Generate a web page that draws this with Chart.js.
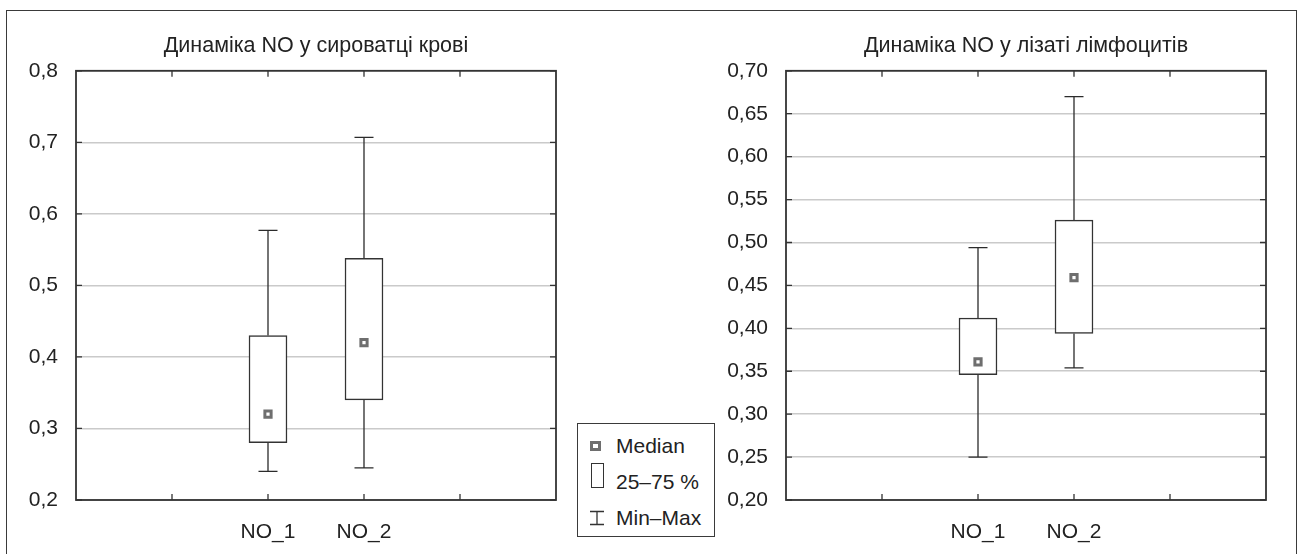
<!DOCTYPE html>
<html>
<head>
<meta charset="utf-8">
<script src="https://cdn.jsdelivr.net/npm/chart.js@4.4.1/dist/chart.umd.min.js"></script>
<style>
    body { margin: 0; background: #fff; font-family: "Liberation Sans", Arial, sans-serif; color: #222; }
    #page { position: relative; width: 1298px; height: 554px; overflow: hidden; }
    canvas { position: absolute; top: 0; }
    #chart1 { left: 0; }
    #chart2 { left: 700px; }
    #frame { position: absolute; left: 6px; top: 10px; width: 1291px; height: 600px; box-sizing: border-box;
             border: 1.5px solid #3a3a3a; border-bottom: none; pointer-events: none; }
    #legend { position: absolute; left: 577px; top: 423px; width: 138px; height: 114px; box-sizing: border-box;
              border: 1.5px solid #3a3a3a; background: #fff; }
    #legend .txt { position: absolute; left: 38px; font-size: 21px; line-height: 24px; white-space: nowrap; }
    #legend .med { position: absolute; left: 12px; top: 17px; width: 11px; height: 10px; box-sizing: border-box;
                   border: 3px solid #6e6e6e; background: #fff; }
    #legend .box { position: absolute; left: 13px; top: 39px; width: 13px; height: 25px; box-sizing: border-box;
                   border: 1.5px solid #333; }
    #legend svg { position: absolute; left: 11px; top: 86px; }
</style>
</head>
<body>
<div id="page">
    <canvas id="chart1" width="570" height="554"></canvas>
    <canvas id="chart2" width="598" height="554"></canvas>
    <div id="frame"></div>
    <div id="legend">
        <div class="med"></div><div class="txt" style="top:10px">Median</div>
        <div class="box"></div><div class="txt" style="top:46px">25–75 %</div>
        <svg width="16" height="16"><path d="M1 1.5H15M8 1.5V14.5M1 14.5H15" stroke="#333" stroke-width="1.3" fill="none"/></svg>
        <div class="txt" style="top:82px">Min–Max</div>
    </div>
</div>
<script>
const categories = ['NO_1', 'NO_2'];

// сироватка крові
const serumMin = [0.240, 0.245];
const serumQ1 = [0.280, 0.340];
const serumMedian = [0.320, 0.420];
const serumQ3 = [0.430, 0.538];
const serumMax = [0.577, 0.707];
const serumTicks = [0.2, 0.3, 0.4, 0.5, 0.6, 0.7, 0.8];

// лізат лімфоцитів
const lymphMin = [0.250, 0.354];
const lymphQ1 = [0.346, 0.394];
const lymphMedian = [0.361, 0.459];
const lymphQ3 = [0.412, 0.526];
const lymphMax = [0.494, 0.670];
const lymphTicks = [0.20, 0.25, 0.30, 0.35, 0.40, 0.45, 0.50, 0.55, 0.60, 0.65, 0.70];

const FONT = "'Liberation Sans', Arial, sans-serif";
const xLabels = ['', ''].concat(categories, ['', '']);

// whiskers (min-q1, q3-max) with caps
const whiskerPlugin = {
    id: 'whiskers',
    beforeDatasetsDraw(chart, args, opts) {
        const { ctx, scales: { x, y } } = chart;
        ctx.save();
        ctx.strokeStyle = '#2b2b2b';
        ctx.lineWidth = 1.3;
        categories.forEach((c, i) => {
            const px = x.getPixelForValue(xLabels.indexOf(c));
            const half = opts.capWidth / 2;
            const yMin = y.getPixelForValue(opts.min[i]);
            const yMax = y.getPixelForValue(opts.max[i]);
            ctx.beginPath();
            ctx.moveTo(px, yMin);
            ctx.lineTo(px, y.getPixelForValue(opts.q1[i]));
            ctx.moveTo(px, y.getPixelForValue(opts.q3[i]));
            ctx.lineTo(px, yMax);
            ctx.moveTo(px - half, yMin);
            ctx.lineTo(px + half, yMin);
            ctx.moveTo(px - half, yMax);
            ctx.lineTo(px + half, yMax);
            ctx.stroke();
        });
        ctx.restore();
    }
};

// plot frame with inward ticks on all four sides
const framePlugin = {
    id: 'plotFrame',
    afterDraw(chart) {
        const { ctx, chartArea: a, scales: { x, y } } = chart;
        ctx.save();
        ctx.strokeStyle = '#333';
        ctx.lineWidth = 1.3;
        ctx.beginPath();
        for (let i = 1; i < xLabels.length - 1; i++) {
            const px = x.getPixelForValue(i);
            ctx.moveTo(px, a.top); ctx.lineTo(px, a.top + 6);
            ctx.moveTo(px, a.bottom); ctx.lineTo(px, a.bottom - 6);
        }
        y.ticks.forEach(t => {
            const py = y.getPixelForValue(t.value);
            ctx.moveTo(a.left, py); ctx.lineTo(a.left + 6, py);
            ctx.moveTo(a.right, py); ctx.lineTo(a.right - 6, py);
        });
        ctx.stroke();
        ctx.lineWidth = 1.8;
        ctx.strokeRect(a.left, a.top, a.right - a.left, a.bottom - a.top);
        ctx.restore();
    }
};

function boxChart(id, title, q1, med, q3, min, max, ticks, digits, yWidth, padRight) {
    const ctx = document.getElementById(id);

    new Chart(ctx, {
        type: 'bar',
        data: {
            labels: xLabels,
            datasets: [{
                order: 2,
                data: categories.map((c, i) => ({ x: c, y: [q1[i], q3[i]] })),
                backgroundColor: '#fff',
                borderColor: '#333',
                borderWidth: 1.5,
                borderSkipped: false,
                barThickness: 38
            },
            {
                type: 'scatter',
                order: 1,
                data: categories.map((c, i) => ({ x: c, y: med[i] })),
                pointStyle: 'rect',
                radius: 4.4,
                borderWidth: 3,
                borderColor: '#6e6e6e',
                backgroundColor: '#fff'
            }]
        },
        options: {
            responsive: false,
            animation: false,
            devicePixelRatio: 1,
            layout: { padding: { left: 0, right: padRight, top: 0, bottom: 0 } },
            plugins: {
                legend: false,
                tooltip: { enabled: false },
                title: {
                    display: true,
                    text: title,
                    fullSize: false,
                    color: '#222',
                    font: { family: FONT, size: 21.5, weight: 'normal', lineHeight: 1.2 },
                    padding: { top: 33, bottom: 12 }
                },
                whiskers: { q1: q1, q3: q3, min: min, max: max, capWidth: 19 }
            },
            scales: {
                x: {
                    offset: false,
                    grid: { display: false, drawTicks: false },
                    border: { display: false },
                    ticks: {
                        autoSkip: false,
                        maxRotation: 0,
                        padding: 20,
                        color: '#222',
                        font: { family: FONT, size: 21 }
                    },
                    afterFit(scale) {
                        scale.height = 54;
                        scale.paddingLeft = 0;
                        scale.paddingRight = 0;
                    }
                },
                y: {
                    min: ticks[0],
                    max: ticks[ticks.length - 1],
                    afterBuildTicks(scale) { scale.ticks = ticks.map(v => ({ value: v })); },
                    grid: { color: '#cacaca', lineWidth: 1.5, drawTicks: false },
                    border: { display: false },
                    ticks: {
                        padding: 18,
                        color: '#222',
                        font: { family: FONT, size: 21 },
                        callback: v => v.toFixed(digits).replace('.', ',')
                    },
                    afterFit(scale) { scale.width = yWidth; }
                }
            }
        },
        plugins: [whiskerPlugin, framePlugin]
    });
}

boxChart('chart1', 'Динаміка NO у сироватці крові',
    serumQ1, serumMedian, serumQ3, serumMin, serumMax, serumTicks, 1, 76, 14);
boxChart('chart2', 'Динаміка NO у лізаті лімфоцитів',
    lymphQ1, lymphMedian, lymphQ3, lymphMin, lymphMax, lymphTicks, 2, 86, 32);
</script>
</body>
</html>
